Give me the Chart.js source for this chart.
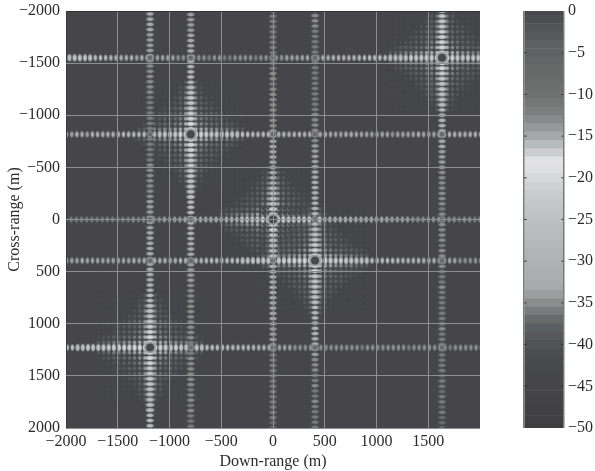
<!DOCTYPE html>
<html>
<head>
<meta charset="utf-8">
<script src="https://cdn.jsdelivr.net/npm/chart.js@4/dist/chart.umd.min.js"></script>
<style>
  html, body { margin: 0; padding: 0; background: #fff; }
  #plot { position: absolute; left: 0; top: 0; }
  #bar { position: absolute; left: 510px; top: 0; }
</style>
</head>
<body>
<canvas id="plot" width="510" height="471"></canvas>
<canvas id="bar" width="85" height="471"></canvas>
<script>
// Axis ticks
var xTicks = [-2000, -1500, -1000, -500, 0, 500, 1000, 1500, 2000];
var yTicks = [-2000, -1500, -1000, -500, 0, 500, 1000, 1500, 2000];
var barTicks = [0, -5, -10, -15, -20, -25, -30, -35, -40, -45, -50];
var barMarks = [-5, -10, -15, -20, -25, -30, -35, -40, -45];

// Colour bar, one grey per dB from 0 down to -50
var barDb = [0,-1,-2,-3,-4,-5,-6,-7,-8,-9,-10,-11,-12,-13,-14,-15,-16,-17,-18,-19,-20,-21,-22,-23,-24,-25,
  -26,-27,-28,-29,-30,-31,-32,-33,-34,-35,-36,-37,-38,-39,-40,-41,-42,-43,-44,-45,-46,-47,-48,-49,-50];
var barGrey = ['#47474c','#4d4e52','#535457','#58595c','#5d5f60','#606364','#636666','#666968','#686b6a','#6b6e6d',
  '#6e7170','#747776','#7b7e7d','#878a8a','#969999','#a6a9a9','#b8bbbb','#cbcdce','#e2e2e2','#e0e0e3',
  '#d6d8da','#cfd1d4','#c9ccce','#c5c8ca','#c1c4c5','#bec1c2','#babdbe','#b8bbbc','#b5b8b9','#b2b5b6',
  '#afb2b3','#adb0b1','#abaeaf','#a8abac','#9c9f9f','#8a8d8c','#797c7c','#686b6b','#5d6062','#56585b',
  '#505256','#4c4d51','#494a4e','#47484c','#47474b','#46464a','#444448','#434347','#414145','#404044','#3e3e42'];

// Target positions in metres
var targetX = [1633, -795, 0, 406, -1188];
var targetY = [-1551, -817, 0, 394, 1228];

// Lobe spacing in metres
var lobeStep = 50;

// dB, left to right
var rowA = [-25,-25,-24,-25,-26,-26,-27,-28,-30,-31,-32,-33,-33,-33,-34,-33,-34,-34,-34,-34,
  -34,-34,-35,-35,-35,-35,-35,-35,-36,-35,-35,-36,-36,-35,-35,-35,-35,-36,-35,-35,
  -36,-35,-35,-34,-34,-34,-34,-34,-35,-34,-33,-33,-32,-32,-31,-31,-30,-29,-29,-28,
  -28,-27,-27,-26,-26,-25,-25,-24,-24,-23,-23,-22,-19,-12,-19,-21,-23,-24,-24,-25,-25];
var rowB = [-34,-34,-33,-33,-34,-33,-33,-33,-32,-32,-31,-31,-30,-30,-29,-28,-28,-27,-26,-25,
  -24,-23,-21,-19,-12,-19,-21,-23,-24,-24,-25,-25,-26,-26,-27,-27,-28,-28,-29,-29,
  -30,-31,-31,-32,-32,-33,-33,-33,-34,-33,-33,-34,-34,-34,-33,-33,-34,-34,-34,-34,
  -34,-34,-34,-35,-34,-34,-34,-34,-33,-34,-34,-34,-33,-34,-33,-33,-33,-33,-33,-33,-33];
var rowC = [-36,-36,-36,-36,-36,-36,-36,-36,-36,-36,-36,-36,-36,-35,-36,-35,-35,-35,-35,-34,
  -35,-34,-34,-33,-33,-33,-32,-32,-31,-31,-30,-29,-28,-27,-26,-25,-24,-23,-21,-19,
  -12,-19,-21,-23,-24,-24,-25,-25,-26,-26,-27,-27,-28,-29,-29,-30,-31,-31,-32,-32,
  -33,-33,-33,-34,-34,-34,-34,-35,-35,-35,-35,-35,-35,-35,-35,-35,-36,-35,-35,-36,-35];
var rowD = [-34,-34,-34,-33,-34,-34,-34,-34,-34,-34,-34,-34,-34,-33,-34,-33,-33,-33,-33,-33,
  -33,-33,-32,-32,-32,-31,-31,-30,-29,-29,-28,-28,-27,-27,-26,-26,-25,-25,-24,-24,
  -23,-23,-22,-22,-21,-21,-20,-19,-12,-19,-20,-22,-23,-23,-24,-24,-25,-26,-26,-27,
  -27,-28,-29,-29,-30,-31,-31,-32,-32,-33,-33,-33,-34,-34,-34,-34,-35,-35,-35,-35,-35];
var rowE = [-27,-27,-26,-26,-25,-25,-24,-23,-23,-22,-22,-21,-21,-20,-20,-19,-12,-19,-21,-22,
  -23,-23,-24,-24,-25,-25,-26,-27,-27,-28,-28,-29,-29,-30,-30,-31,-31,-32,-32,-33,
  -33,-34,-34,-34,-35,-35,-35,-35,-35,-35,-35,-35,-35,-35,-35,-35,-35,-36,-35,-35,
  -35,-35,-35,-35,-35,-35,-36,-35,-35,-35,-35,-35,-35,-35,-36,-35,-35,-35,-35,-35,-35];
var rows = [rowA, rowB, rowC, rowD, rowE];

// dB read down each vertical line, top to bottom
var colE = [-33,-33,-33,-33,-33,-34,-34,-34,-34,-34,-35,-35,-35,-35,-35,-35,-35,-36,-36,-36,
  -36,-36,-36,-36,-36,-36,-36,-36,-36,-36,-35,-35,-35,-35,-35,-35,-35,-34,-34,-34,
  -34,-34,-34,-33,-33,-33,-33,-33,-33,-33,-32,-32,-31,-30,-29,-28,-27,-26,-25,-24,
  -23,-22,-21,-20,-19,-12,-19,-20,-21,-22,-23,-23,-24,-25,-25,-26,-26,-26,-27,-27,-27];
var colB = [-34,-34,-34,-34,-34,-33,-33,-32,-31,-30,-30,-29,-28,-27,-27,-26,-25,-24,-24,-23,
  -22,-21,-20,-19,-12,-19,-20,-21,-22,-23,-23,-24,-24,-25,-25,-26,-26,-27,-27,-28,
  -29,-30,-31,-31,-32,-32,-33,-33,-33,-34,-34,-34,-34,-35,-35,-35,-35,-35,-35,-35,
  -35,-35,-35,-35,-36,-36,-36,-35,-35,-35,-35,-35,-35,-36,-35,-35,-36,-35,-36,-36,-36];
var colC = [-36,-36,-36,-36,-36,-36,-36,-36,-36,-36,-36,-36,-35,-35,-36,-35,-35,-35,-35,-35,
  -35,-35,-35,-34,-34,-33,-33,-32,-31,-31,-30,-29,-28,-27,-26,-25,-24,-23,-21,-19,
  -12,-19,-21,-23,-24,-25,-26,-26,-27,-27,-28,-29,-30,-30,-31,-32,-32,-33,-33,-33,
  -34,-34,-34,-34,-35,-35,-36,-36,-36,-36,-36,-36,-36,-36,-36,-36,-36,-36,-36,-37,-37];
var colD = [-35,-35,-35,-35,-36,-36,-36,-36,-36,-36,-36,-36,-36,-36,-36,-36,-36,-36,-36,-36,
  -35,-35,-35,-35,-35,-35,-34,-34,-34,-34,-33,-33,-33,-32,-32,-31,-31,-30,-30,-29,
  -28,-27,-26,-25,-24,-23,-21,-19,-12,-19,-21,-23,-24,-24,-25,-25,-26,-27,-27,-28,
  -29,-30,-31,-32,-33,-33,-34,-35,-35,-35,-36,-36,-35,-36,-36,-35,-36,-36,-36,-36,-36];
var colA = [-24,-24,-23,-23,-22,-22,-21,-20,-19,-12,-19,-20,-22,-23,-24,-24,-25,-26,-26,-27,
  -28,-29,-30,-31,-32,-33,-33,-34,-34,-34,-34,-35,-35,-35,-35,-35,-35,-35,-36,-35,
  -35,-35,-35,-35,-35,-36,-35,-35,-36,-35,-36,-36,-36,-35,-36,-36,-36,-36,-36,-36,
  -36,-35,-36,-36,-36,-36,-36,-36,-36,-36,-37,-36,-36,-37,-36,-36,-37,-36,-37,-37,-37];
var cols = [colA, colB, colC, colD, colE];

// Where each target sits in its row and column lists
var rowCentre = [73, 24, 40, 48, 16];
var colCentre = [9, 24, 40, 48, 65];

// dB of the off-axis lobes around a target, one quadrant
var halo = [
  [-31,-33,-34,-35,-35,-36,-36,-37,-38,-39],
  [-33,-35,-36,-37,-37,-38,-38,-39,-40,-42],
  [-34,-36,-37,-38,-38,-39,-40,-42,-43,-43],
  [-35,-37,-38,-38,-39,-40,-42,-43,-43,-43],
  [-35,-37,-38,-39,-40,-42,-43,-43,-43,-43],
  [-36,-38,-39,-40,-42,-43,-43,-43,-43,-43],
  [-36,-38,-40,-42,-43,-43,-43,-43,-43,-43],
  [-37,-39,-42,-43,-43,-43,-43,-43,-43,-43],
  [-38,-40,-43,-43,-43,-43,-43,-43,-43,-43],
  [-39,-42,-43,-43,-43,-43,-43,-43,-43,-43]
];

var plotBg = '#45454a';
var inkColor = '#2b2b2b';
var serif = '"Liberation Serif", serif';

function greyFor(db) {
  return barGrey[barDb.indexOf(Math.round(db))];
}

// Soft elongated blobs so the lobes look like the blurred image
var sprites = {};
function sprite(db, w, h) {
  var key = db + '_' + w + '_' + h;
  if (sprites[key]) return sprites[key];
  var c = document.createElement('canvas');
  c.width = Math.ceil(w * 2) + 2;
  c.height = Math.ceil(h * 2) + 2;
  var g = c.getContext('2d');
  g.translate(c.width / 2, c.height / 2);
  g.scale(w, h);
  var grad = g.createRadialGradient(0, 0, 0, 0, 0, 1);
  var col = greyFor(db);
  grad.addColorStop(0, col);
  grad.addColorStop(0.5, col);
  grad.addColorStop(1, col + '00');
  g.fillStyle = grad;
  g.beginPath();
  g.arc(0, 0, 1, 0, Math.PI * 2);
  g.fill();
  sprites[key] = c;
  return c;
}

// Build the points for each layer
var rowPoints = [], colPoints = [], haloPoints = [], crossPoints = [], targetPoints = [];
rows.forEach(function(row, r) {
  row.forEach(function(db, i) {
    rowPoints.push({ x: targetX[r] + (i - rowCentre[r]) * lobeStep, y: targetY[r], db: db });
  });
});
cols.forEach(function(col, c) {
  col.forEach(function(db, i) {
    colPoints.push({ x: targetX[c], y: targetY[c] + (i - colCentre[c]) * lobeStep, db: db });
  });
});
targetX.forEach(function(tx, t) {
  targetPoints.push({ x: tx, y: targetY[t] });
  halo.forEach(function(line, r) {
    line.forEach(function(db, c) {
      [[1, 1], [1, -1], [-1, 1], [-1, -1]].forEach(function(s) {
        haloPoints.push({ x: tx + s[0] * (c + 1) * lobeStep, y: targetY[t] + s[1] * (r + 1) * lobeStep, db: db });
      });
    });
  });
  targetY.forEach(function(ty, k) {
    if (k !== t) crossPoints.push({ x: tx, y: ty });
  });
});

function lobeSet(points, w, h, order) {
  return {
    data: points,
    order: order,
    showLine: false,
    pointRadius: 2,
    pointHoverRadius: 2,
    pointStyle: function(ctx) {
      var p = ctx.raw;
      if (!p) return 'circle';
      // brighter lobes read a little fatter in the picture
      var k = p.db > -27 ? 1.15 : 1;
      return sprite(p.db, w * k, h * k);
    }
  };
}

var backdrop = {
  id: 'backdrop',
  beforeDatasetsDraw: function(chart) {
    var a = chart.chartArea, g = chart.ctx;
    g.save();
    g.fillStyle = plotBg;
    g.fillRect(a.left, a.top, a.right - a.left, a.bottom - a.top);
    g.restore();
  }
};

function minusLabel(v) {
  return v < 0 ? '\u2212' + Math.abs(v) : String(v);
}

function noEdgePadding(axis) {
  axis.paddingTop = 0;
  axis.paddingBottom = 0;
  axis.paddingLeft = 0;
  axis.paddingRight = 0;
}

new Chart(document.getElementById('plot'), {
  type: 'scatter',
  data: {
    datasets: [
      { data: targetPoints, order: 0, pointRadius: 4, backgroundColor: greyFor(0), borderWidth: 0 },
      { data: targetPoints, order: 1, pointRadius: 6, backgroundColor: greyFor(-34), borderWidth: 0 },
      { data: crossPoints, order: 2, pointRadius: 2.8, backgroundColor: greyFor(-37), borderWidth: 1, borderColor: greyFor(-35) },
      lobeSet(colPoints, 4.7, 2.4, 3),
      lobeSet(rowPoints, 2.4, 3.9, 4),
      lobeSet(haloPoints, 2.4, 2.4, 5)
    ]
  },
  options: {
    responsive: false,
    animation: false,
    events: [],
    layout: { padding: { top: 11, right: 30 } },
    plugins: { legend: { display: false }, tooltip: { enabled: false } },
    scales: {
      x: {
        type: 'linear', min: -2000, max: 2000,
        afterBuildTicks: function(axis) { axis.ticks = xTicks.map(function(v) { return { value: v }; }); },
        afterFit: function(axis) { axis.height = 43; noEdgePadding(axis); },
        border: { display: false },
        grid: {
          z: 1, drawTicks: false, lineWidth: 1,
          color: function(ctx) {
            var v = ctx.tick.value;
            if (v === -2000) return '#3a3a3e';
            if (v === 2000) return 'rgba(0,0,0,0)';
            return '#8d8e90';
          }
        },
        ticks: {
          autoSkip: false, maxRotation: 0, padding: 4, color: inkColor,
          font: { family: serif, size: 16 },
          callback: function(v) { return v === 2000 ? '' : minusLabel(v); }
        },
        title: {
          display: true, text: 'Down-range (m)', color: inkColor,
          font: { family: serif, size: 16 }, padding: { top: 0, bottom: 0 }
        }
      },
      y: {
        type: 'linear', min: -2000, max: 2000, reverse: true,
        afterBuildTicks: function(axis) { axis.ticks = yTicks.map(function(v) { return { value: v }; }); },
        afterFit: function(axis) { axis.width = 66; noEdgePadding(axis); },
        border: { display: false },
        grid: {
          z: 1, drawTicks: false, lineWidth: 1,
          color: function(ctx) {
            return ctx.tick.value === -2000 ? '#333337' : '#8d8e90';
          }
        },
        ticks: {
          autoSkip: false, padding: 6, color: inkColor,
          font: { family: serif, size: 16 },
          callback: minusLabel
        },
        title: {
          display: true, text: 'Cross-range (m)', color: inkColor,
          font: { family: serif, size: 16 }, padding: { top: 5, bottom: 0 }
        }
      }
    }
  },
  plugins: [backdrop]
});

// Colour bar
new Chart(document.getElementById('bar'), {
  type: 'bar',
  data: {
    datasets: [
      {
        type: 'scatter', order: 0, data: barMarks.map(function(v) { return { x: 0, y: v }; }),
        pointStyle: 'line', pointRadius: 2.5, borderColor: inkColor, borderWidth: 1
      },
      {
        type: 'scatter', order: 0, data: barMarks.map(function(v) { return { x: 1, y: v }; }),
        pointStyle: 'line', pointRadius: 2.5, borderColor: inkColor, borderWidth: 1
      },
      {
        order: 1,
        data: barDb.map(function(v) { return { x: 1, y: v }; }),
        backgroundColor: barGrey,
        barPercentage: 1, categoryPercentage: 1, borderWidth: 0
      }
    ]
  },
  options: {
    responsive: false,
    animation: false,
    events: [],
    indexAxis: 'y',
    layout: { padding: { top: 11, left: 14, bottom: 43 } },
    plugins: { legend: { display: false }, tooltip: { enabled: false } },
    scales: {
      x: {
        type: 'linear', min: 0, max: 1,
        afterFit: function(axis) { axis.height = 0; noEdgePadding(axis); },
        border: { display: false },
        grid: { z: 1, drawTicks: false, color: '#77797a', lineWidth: 1.5 },
        ticks: { display: false, stepSize: 1 }
      },
      y: {
        type: 'linear', min: -50, max: 0, position: 'right', offset: false,
        afterBuildTicks: function(axis) { axis.ticks = barTicks.map(function(v) { return { value: v }; }); },
        afterFit: function(axis) { axis.width = 31; noEdgePadding(axis); },
        border: { display: false },
        grid: { display: false, drawTicks: false, offset: false },
        ticks: {
          autoSkip: false, padding: 4, color: inkColor,
          font: { family: serif, size: 16 },
          callback: minusLabel
        }
      }
    }
  }
});
</script>
</body>
</html>
